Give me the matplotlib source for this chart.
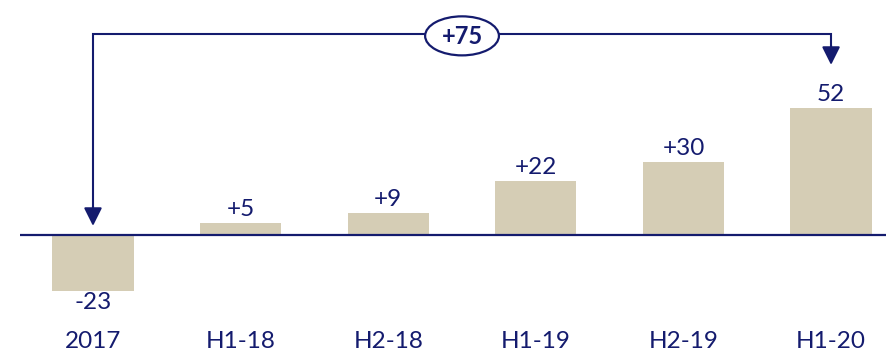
import matplotlib

matplotlib.use("Agg")
import matplotlib.pyplot as plt
from matplotlib.patches import Ellipse

# data
categories = ["2017", "H1-18", "H2-18", "H1-19", "H2-19", "H1-20"]
values = [-23, 5, 9, 22, 30, 52]
value_labels = ["-23", "+5", "+9", "+22", "+30", "52"]
total_label = "+75"

NAVY = "#141B6E"
BEIGE = "#D5CDB5"

plt.rcParams["font.family"] = ["Lato", "DejaVu Sans"]

fig = plt.figure(figsize=(8.87, 3.53), dpi=100)
ax = fig.add_axes([0, 0, 1, 1])
ax.set_xlim(-0.630, 5.379)
ax.set_ylim(-48.4, 96.3)
ax.axis("off")

x = list(range(len(categories)))
ax.bar(x, values, width=0.55, color=BEIGE, zorder=2)

# baseline
ax.plot([-0.495, 5.379], [0, 0], color=NAVY, lw=1.6, zorder=3, solid_capstyle="butt")

for xi, v, lab in zip(x, values, value_labels):
    if v >= 0:
        ax.text(xi, v + 2.8, lab, ha="center", va="baseline", fontsize=17.5, color=NAVY, zorder=4)
    else:
        ax.text(xi, v - 0.3, lab, ha="center", va="top", fontsize=17.5, color=NAVY, zorder=4)

for xi, cat in zip(x, categories):
    ax.text(xi, -43.6, cat, ha="center", va="center", fontsize=17.5, color=NAVY)

# bracket from first to last bar
top = 82.4
x0, x1 = x[0], x[-1]
tips = (3.7, values[-1] + 17.7)
ax.plot([x0, x0, x1, x1], [tips[0] + 5, top, top, tips[1] + 5],
        color=NAVY, lw=1.5, zorder=3, solid_joinstyle="miter")
for xa, ytip in zip((x0, x1), tips):
    ax.annotate("", xy=(xa, ytip), xytext=(xa, ytip + 8),
                arrowprops=dict(arrowstyle="-|>,head_length=1.1,head_width=0.55",
                                color=NAVY, lw=1.5, shrinkA=0, shrinkB=0), zorder=4)

xm = (x0 + x1) / 2
ax.add_patch(Ellipse((xm, top - 0.8), 0.50, 16.0, facecolor="white", edgecolor=NAVY, lw=1.6, zorder=5))
ax.text(xm, top - 0.9, total_label, ha="center", va="center", fontsize=17,
        fontweight="bold", color=NAVY, zorder=6)

fig.savefig("out.png", dpi=100)
